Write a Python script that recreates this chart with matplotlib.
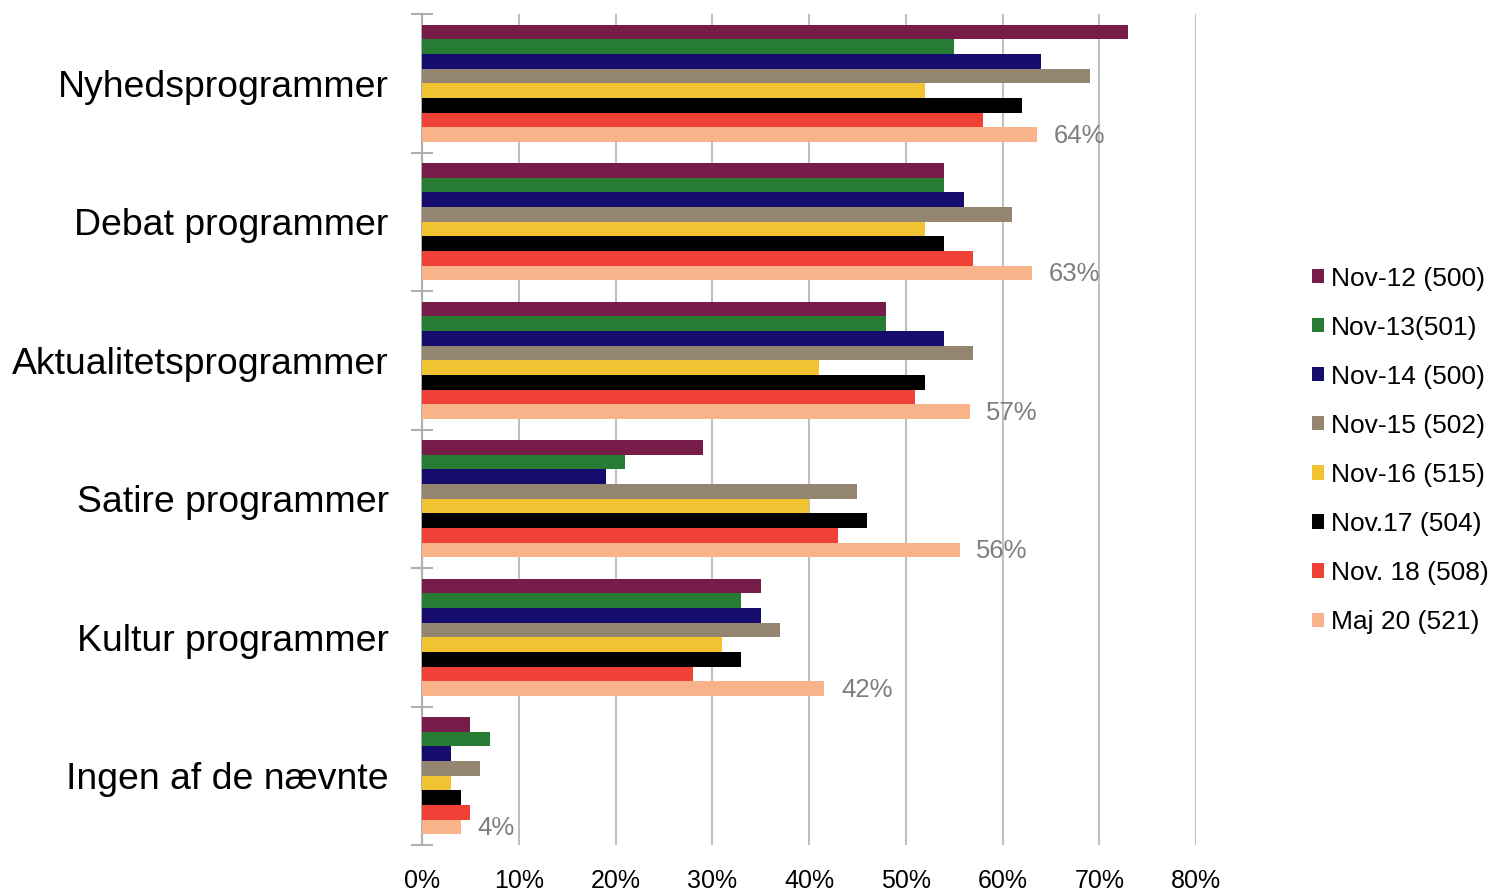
import matplotlib
matplotlib.use("Agg")
import matplotlib.pyplot as plt
import numpy as np
from matplotlib.ticker import FuncFormatter

plt.rcParams["font.family"] = ["Liberation Sans", "DejaVu Sans"]

categories = ["Nyhedsprogrammer", "Debat programmer", "Aktualitetsprogrammer",
              "Satire programmer", "Kultur programmer", "Ingen af de nævnte"]
series = ["Nov-12 (500)", "Nov-13(501)", "Nov-14 (500)", "Nov-15 (502)",
          "Nov-16 (515)", "Nov.17 (504)", "Nov. 18 (508)", "Maj 20 (521)"]
nov12 = [73, 54, 48, 29, 35, 5]
nov13 = [55, 54, 48, 21, 33, 7]
nov14 = [64, 56, 54, 19, 35, 3]
nov15 = [69, 61, 57, 45, 37, 6]
nov16 = [52, 52, 41, 40, 31, 3]
nov17 = [62, 54, 52, 46, 33, 4]
nov18 = [58, 57, 51, 43, 28, 5]
maj20 = [63.6, 63.1, 56.6, 55.6, 41.6, 4]
colors = ["#751C48", "#287B32", "#160C6E", "#938570",
          "#F1C232", "#000000", "#EF4136", "#F9B38B"]

values = [nov12, nov13, nov14, nov15, nov16, nov17, nov18, maj20]

fig = plt.figure(figsize=(14.96, 8.90), dpi=100)
ax = fig.add_axes([422 / 1496, 1 - 845 / 890, (1196 - 422) / 1496, (845 - 14) / 890])

n = len(series)
bar_h = 0.845 / n
y = np.arange(len(categories))
for i, (vals, name, col) in enumerate(zip(values, series, colors)):
    offs = -0.4225 + bar_h * (i + 0.5)
    ax.barh(y + offs, vals, height=bar_h, color=col, label=name, zorder=3)

# labels on latest series only
offs_last = -0.4225 + bar_h * (n - 0.5)
for yi, v in zip(y, maj20):
    ax.text(v + 1.7, yi + offs_last + 0.01, f"{round(v):.0f}%", va="center",
            ha="left", fontsize=18.5, color="#7f7f7f", zorder=4)

ax.set_xlim(0, 80)
ax.set_ylim(len(categories) - 0.5, -0.5)
ax.set_xticks(np.arange(0, 81, 10))
ax.xaxis.set_major_formatter(FuncFormatter(lambda v, _: f"{v:.0f}%"))
ax.tick_params(axis="x", length=0, labelsize=18, pad=17)
ax.grid(axis="x", color="#c0c0c0", linewidth=1.5, zorder=0)

ax.set_yticks(y)
ax.set_yticklabels(categories, fontsize=26.9)
ax.tick_params(axis="y", which="major", length=0, pad=24)
ax.set_yticks(np.arange(-0.5, len(categories)), minor=True)
ax.tick_params(axis="y", which="minor", direction="inout", length=16,
               width=1.5, color="#b0b0b0")

for side in ("top", "right", "bottom"):
    ax.spines[side].set_visible(False)
ax.spines["left"].set_color("#b0b0b0")
ax.spines["left"].set_linewidth(1.5)

ax.legend(loc="center left", bbox_to_anchor=(1.136, 0.475),
          frameon=False, fontsize=19, handlelength=0.45, handleheight=0.45,
          handletextpad=0.27, labelspacing=0.95, borderaxespad=0)

fig.savefig("out.png", dpi=100)
